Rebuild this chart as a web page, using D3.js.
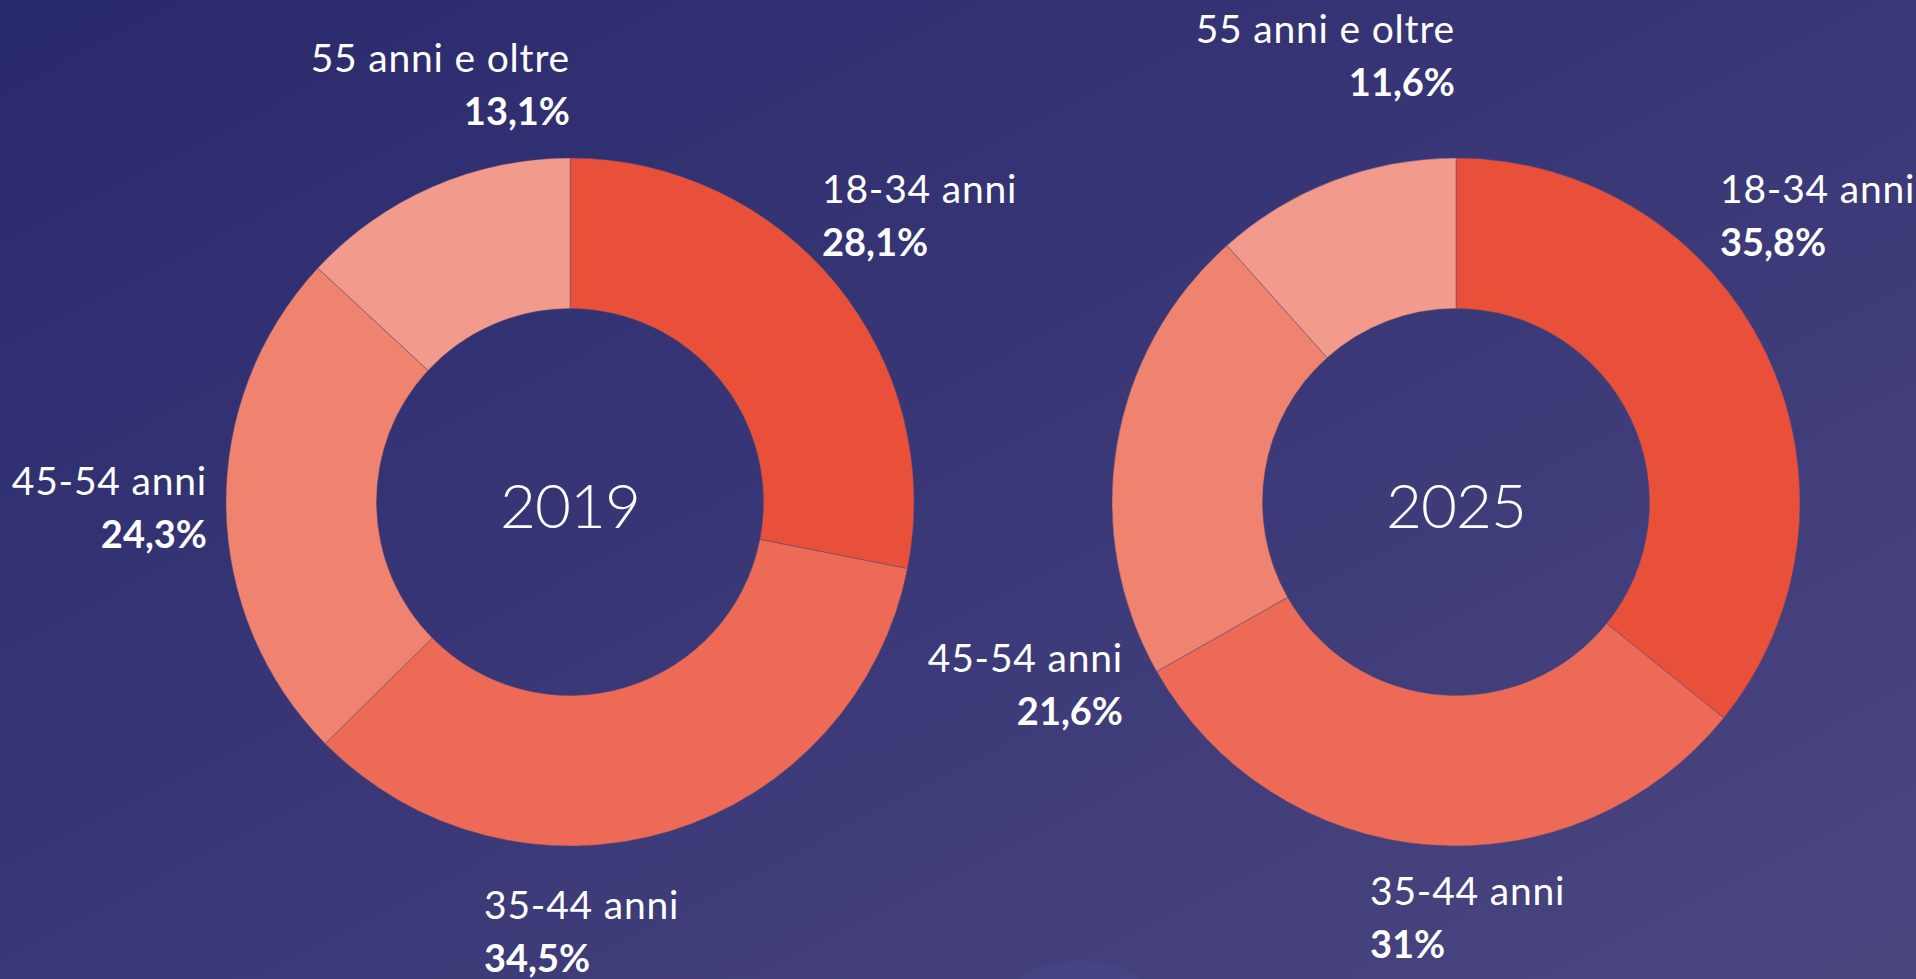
<!DOCTYPE html>
<html>
<head>
<meta charset="utf-8">
<script src="https://cdn.jsdelivr.net/npm/d3@7"></script>
<style>
  html, body { margin: 0; padding: 0; overflow: hidden; }
  body { width: 1916px; height: 979px; }
</style>
</head>
<body>
<div id="chart"></div>
<script>
// age groups and shares (%)
const categories = ["18-34 anni", "35-44 anni", "45-54 anni", "55 anni e oltre"];
const values2019 = [28.1, 34.5, 24.3, 13.1];
const values2025 = [35.8, 31, 21.6, 11.6];
const valueLabels2019 = ["28,1%", "34,5%", "24,3%", "13,1%"];
const valueLabels2025 = ["35,8%", "31%", "21,6%", "11,6%"];
const years = ["2019", "2025"];

const width = 1916, height = 979;
const colors = ["#e9503a", "#ec6a56", "#ef8370", "#f29a8c"];

// label placement relative to donut centre (layout only)
const labelLayout = [
  [ {dx: 252, dy: -299, anchor: "start"}, {dx: -86, dy: 417, anchor: "start"},
    {dx: -363, dy: -7, anchor: "end"}, {dx: 0, dy: -430, anchor: "end"} ],
  [ {dx: 264, dy: -299, anchor: "start"}, {dx: -86, dy: 403, anchor: "start"},
    {dx: -333, dy: 170, anchor: "end"}, {dx: -1, dy: -459, anchor: "end"} ]
];

const svg = d3.select("#chart").append("svg")
  .attr("width", width).attr("height", height);

const defs = svg.append("defs");
const grad = defs.append("linearGradient").attr("id", "bg")
  .attr("x1", "0%").attr("y1", "0%").attr("x2", "100%").attr("y2", "100%");
grad.append("stop").attr("offset", "0%").attr("stop-color", "#29296d");
grad.append("stop").attr("offset", "100%").attr("stop-color", "#4a4680");

svg.append("rect").attr("width", width).attr("height", height).attr("fill", "url(#bg)");

// faint decorative blob at the bottom
svg.append("circle").attr("cx", 1080).attr("cy", 1075).attr("r", 115)
  .attr("fill", "#4a4f96").attr("opacity", 0.3);

const centersX = d3.scalePoint().domain(years).range([570, 1456]);
const cy = 502;
const outerR = 344, innerR = 193.5;

const pie = d3.pie().sort(null).value(d => d);
const arc = d3.arc().innerRadius(innerR).outerRadius(outerR);

const series = [values2019, values2025];
const valueLabels = [valueLabels2019, valueLabels2025];

years.forEach(function(year, k) {
  const g = svg.append("g")
    .attr("transform", "translate(" + centersX(year) + "," + cy + ")");

  g.selectAll("path").data(pie(series[k])).enter().append("path")
    .attr("d", arc)
    .attr("fill", (d, i) => colors[i])
    .attr("stroke", "#5b4a78").attr("stroke-width", 0.8).attr("stroke-opacity", 0.6);

  g.append("text")
    .attr("text-anchor", "middle")
    .attr("y", 26)
    .attr("fill", "#ffffff")
    .style("font-family", "Lato, 'Open Sans', sans-serif")
    .style("font-weight", 300)
    .style("font-size", "62px")
    .style("letter-spacing", "-1px")
    .text(year);

  const labels = g.selectAll("g.lab").data(categories).enter().append("g")
    .attr("class", "lab")
    .attr("transform", (d, i) => "translate(" + labelLayout[k][i].dx + "," + labelLayout[k][i].dy + ")");

  labels.append("text")
    .attr("text-anchor", (d, i) => labelLayout[k][i].anchor)
    .attr("fill", "#ffffff")
    .style("font-family", "Lato, 'Open Sans', sans-serif")
    .style("font-weight", 400)
    .style("font-size", "39px")
    .style("letter-spacing", "0.8px")
    .text(d => d);

  labels.append("text")
    .attr("text-anchor", (d, i) => labelLayout[k][i].anchor)
    .attr("y", 53)
    .attr("fill", "#ffffff")
    .style("font-family", "Lato, 'Open Sans', sans-serif")
    .style("font-weight", 700)
    .style("font-size", "38px")
    .text((d, i) => valueLabels[k][i]);
});
</script>
</body>
</html>
